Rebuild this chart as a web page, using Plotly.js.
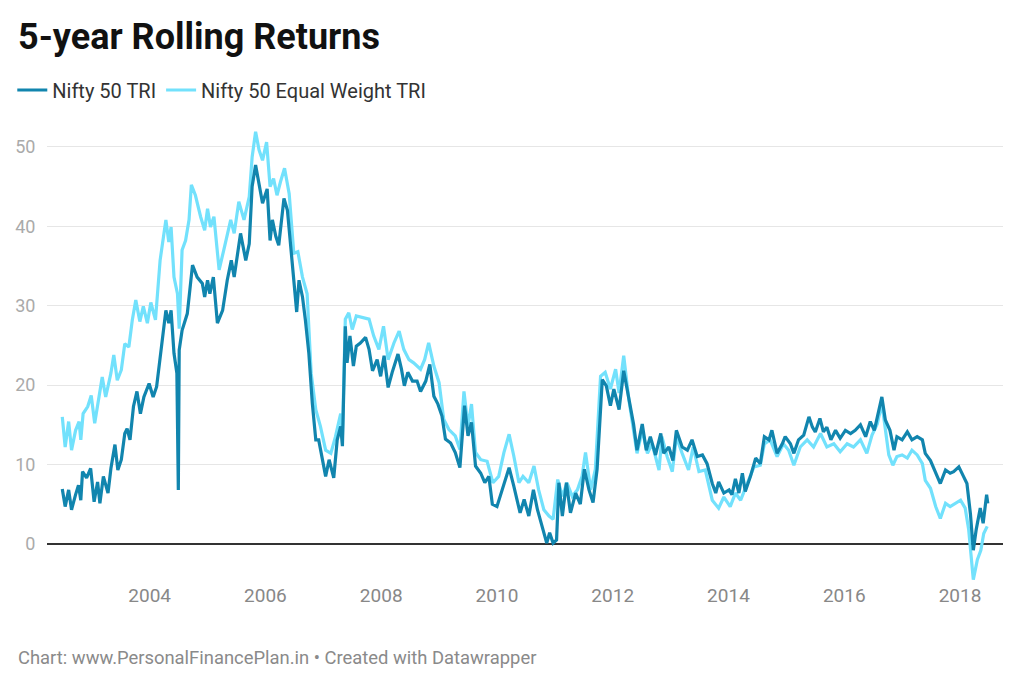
<!DOCTYPE html>
<html>
<head>
<meta charset="utf-8">
<script src="https://cdn.plot.ly/plotly-3.0.1.min.js"></script>
<style>
html,body{margin:0;padding:0;background:#fff;}
#chart{width:1024px;height:694px;}
</style>
</head>
<body>
<div id="chart"></div>
<script>
// Nifty 50 TRI – 5-year rolling returns (%), x in decimal years
var niftyYears = [2002.49,2002.54,2002.60,2002.65,2002.72,2002.77,2002.81,2002.84,2002.91,2002.98,2003.04,2003.10,2003.14,2003.20,2003.28,2003.33,2003.40,2003.45,2003.51,2003.57,2003.61,2003.66,2003.72,2003.78,2003.84,2003.90,2003.99,2004.06,2004.12,2004.19,2004.28,2004.33,2004.37,2004.42,2004.47,2004.495,2004.51,2004.56,2004.65,2004.74,2004.82,2004.91,2004.95,2005.00,2005.04,2005.10,2005.17,2005.26,2005.34,2005.41,2005.46,2005.57,2005.66,2005.72,2005.77,2005.83,2005.89,2005.95,2006.03,2006.08,2006.12,2006.18,2006.23,2006.32,2006.38,2006.44,2006.49,2006.54,2006.58,2006.64,2006.69,2006.75,2006.81,2006.87,2006.92,2006.98,2007.04,2007.10,2007.18,2007.24,2007.30,
2007.33,2007.38,2007.41,2007.46,2007.52,2007.57,2007.64,2007.73,2007.79,2007.85,2007.93,2007.99,2008.05,2008.12,2008.19,2008.29,2008.35,2008.40,2008.46,2008.54,2008.62,2008.68,2008.77,2008.84,2008.91,2008.98,2009.05,2009.11,2009.20,2009.28,2009.36,2009.44,2009.50,2009.56,2009.63,2009.72,2009.79,2009.86,2009.92,2010.00,2010.09,2010.21,2010.29,2010.40,2010.47,2010.55,2010.63,2010.70,2010.78,2010.86,2010.91,2010.97,2011.03,2011.07,2011.13,2011.20,2011.27,2011.36,2011.44,2011.51,2011.59,2011.66,2011.73,2011.82,2011.89,2011.96,2012.02,2012.11,
2012.19,2012.28,2012.36,2012.42,2012.51,2012.58,2012.65,2012.74,2012.83,2012.88,2012.97,2013.04,2013.10,2013.20,2013.29,2013.37,2013.46,2013.55,2013.63,2013.72,2013.78,2013.83,2013.92,2014.01,2014.06,2014.12,2014.18,2014.24,2014.29,2014.38,2014.47,2014.55,2014.62,2014.70,2014.75,2014.84,2014.93,2014.98,2015.07,2015.13,2015.21,2015.30,2015.39,2015.45,2015.50,2015.58,2015.64,2015.70,2015.77,2015.85,2015.93,2016.02,2016.11,2016.19,2016.28,2016.37,2016.45,2016.52,2016.60,2016.65,2016.71,2016.79,2016.86,2016.91,2017.00,2017.09,2017.17,2017.26,2017.35,2017.40,2017.49,2017.58,2017.66,2017.75,2017.83,2017.89,2017.98,2018.06,2018.12,2018.18,2018.23,2018.28,2018.35,2018.40,2018.46,2018.48];
var niftyReturns = [6.9,4.7,6.8,4.3,6.2,7.4,5.5,9.1,8.3,9.5,5.3,7.8,5.1,8.5,6.4,9.5,12.5,9.3,10.6,13.9,14.5,13.1,17.3,19.2,16.4,18.5,20.2,18.5,19.8,24.4,29.4,27.8,29.4,24.0,21.5,6.8,24.4,26.9,29.0,35.1,33.6,32.8,31.1,33.2,31.5,33.6,27.8,29.4,33.2,35.7,33.6,39.1,35.7,37.8,45.0,47.7,45.0,42.9,44.7,38.2,40.8,38.7,37.6,43.5,42.0,37.4,34.0,29.2,33.2,31.1,28.2,24.0,17.7,13.1,13.1,11.0,8.5,10.6,8.3,13.1,14.8,
12.3,27.4,22.8,26.2,22.4,24.9,25.3,26.0,24.5,21.8,23.2,21.1,23.7,19.7,21.6,23.9,22.0,19.9,21.6,20.5,20.5,19.2,20.5,22.6,18.6,17.6,16.1,13.2,12.7,11.5,9.6,17.4,13.6,15.3,9.8,8.9,7.7,8.5,5.0,4.7,6.8,9.6,7.3,3.9,5.6,3.5,6.8,4.3,2.2,0.1,1.4,0.1,0.5,7.7,3.5,7.7,3.9,6.4,5.0,9.4,6.8,5.2,9.4,20.7,19.9,17.4,19.5,16.9,
21.8,18.5,15.1,11.8,15.1,11.8,13.5,11.2,13.9,11.4,12.2,10.5,14.3,12.2,11.8,13.1,11.0,11.2,10.1,7.6,6.4,7.8,6.4,6.8,6.2,8.2,6.4,8.9,6.6,8.5,10.8,10.1,13.5,13.1,14.3,11.4,12.6,13.5,12.6,11.4,13.1,13.7,16.0,14.7,14.1,15.8,14.1,14.7,13.1,14.3,13.3,14.3,13.9,14.3,15.0,13.5,15.4,14.3,17.0,18.5,15.6,14.3,11.8,13.5,13.1,14.1,13.1,13.5,13.1,11.4,10.5,8.9,7.6,9.3,8.9,9.1,9.7,8.5,7.6,3.8,-0.8,1.8,4.5,2.6,6.2,5.1];

// Nifty 50 Equal Weight TRI – 5-year rolling returns (%)
var ewYears = [2002.49,2002.54,2002.60,2002.65,2002.72,2002.78,2002.81,2002.85,2002.93,2002.99,2003.05,2003.11,2003.18,2003.24,2003.33,2003.38,2003.44,2003.51,2003.57,2003.64,2003.70,2003.76,2003.83,2003.89,2003.96,2004.02,2004.10,2004.18,2004.28,2004.33,2004.37,2004.42,2004.48,2004.51,2004.56,2004.62,2004.68,2004.72,2004.79,2004.88,2004.95,2005.00,2005.05,2005.11,2005.20,2005.28,2005.40,2005.46,2005.54,2005.63,2005.72,2005.77,2005.83,2005.89,2005.95,2006.02,2006.08,2006.14,2006.20,2006.26,2006.33,2006.41,2006.49,2006.56,2006.64,2006.72,2006.79,2006.87,2006.95,2007.04,2007.13,2007.21,2007.30,
2007.33,2007.38,2007.44,2007.50,2007.57,2007.67,2007.79,2007.87,2007.96,2008.04,2008.12,2008.22,2008.31,2008.39,2008.48,2008.56,2008.68,2008.75,2008.82,2008.91,2009.00,2009.08,2009.17,2009.28,2009.36,2009.43,2009.50,2009.56,2009.63,2009.72,2009.83,2009.93,2010.03,2010.12,2010.21,2010.29,2010.38,2010.45,2010.55,2010.64,2010.72,2010.81,2010.90,2010.97,2011.05,2011.13,2011.21,2011.30,2011.39,2011.47,2011.53,2011.62,2011.70,2011.79,2011.87,2011.96,2012.05,2012.11,
2012.19,2012.28,2012.36,2012.42,2012.51,2012.60,2012.68,2012.80,2012.85,2012.94,2013.03,2013.10,2013.20,2013.31,2013.39,2013.49,2013.60,2013.72,2013.83,2013.92,2014.03,2014.12,2014.21,2014.32,2014.44,2014.55,2014.62,2014.72,2014.84,2014.95,2015.04,2015.13,2015.24,2015.36,2015.47,2015.59,2015.70,2015.82,2015.93,2016.05,2016.16,2016.28,2016.39,2016.48,2016.57,2016.65,2016.71,2016.77,2016.84,2016.91,2017.00,2017.09,2017.17,2017.26,2017.35,2017.40,2017.49,2017.58,2017.66,2017.75,2017.83,2017.92,2018.01,2018.09,2018.15,2018.23,2018.30,2018.36,2018.41,2018.47];
var ewReturns = [16.0,12.2,15.4,11.8,14.3,15.4,13.1,16.4,17.3,18.7,15.2,17.9,21.0,18.5,21.5,23.8,20.6,21.9,25.2,24.8,28.2,30.7,28.0,29.9,27.8,30.4,28.2,35.7,40.8,38.0,39.9,33.6,31.5,27.1,37.0,38.2,40.8,45.2,43.9,41.2,39.5,42.2,39.9,41.2,34.5,37.0,40.8,39.1,43.1,40.8,43.7,48.7,51.9,49.6,48.3,50.6,45.0,46.0,43.9,45.6,47.3,44.1,36.6,36.8,33.6,31.5,21.5,16.9,14.8,11.8,11.4,13.5,16.4,
13.6,28.3,29.1,27.0,28.7,28.5,28.3,26.2,24.5,27.4,23.2,25.3,26.8,24.5,23.2,22.8,22.0,23.2,25.3,22.4,20.3,15.7,14.4,13.6,11.9,19.2,14.8,17.6,11.5,10.6,10.4,7.7,8.5,11.5,13.8,11.1,7.7,8.5,7.7,9.8,6.8,4.3,3.5,3.1,8.1,6.0,7.7,6.0,6.8,8.5,11.5,6.8,9.4,21.1,21.6,19.5,22.0,19.0,
23.7,18.1,14.3,11.4,14.3,11.4,12.6,9.3,13.5,11.0,9.1,13.5,11.4,9.3,12.2,9.1,9.3,5.5,4.5,5.9,4.7,6.4,5.5,7.6,9.7,9.9,12.6,13.1,11.0,12.6,11.8,9.9,12.2,13.1,12.2,13.9,12.2,12.6,11.6,12.6,12.2,13.1,11.4,13.7,15.1,17.7,14.7,11.2,9.9,11.0,11.2,10.8,11.8,11.2,10.1,8.0,7.0,4.7,3.2,5.1,4.7,5.1,5.5,4.5,1.8,-4.5,-2.0,-0.8,1.3,2.2];

var yTicks = [0,10,20,30,40,50];
var xTicks = [2004,2006,2008,2010,2012,2014,2016,2018];
var xTickLabels = ["2004","2006","2008","2010","2012","2014","2016","2018"];

var FONT = "Roboto, 'Noto Sans', sans-serif";

var traces = [
  {x: ewYears, y: ewReturns, type: 'scatter', mode: 'lines', name: 'Nifty 50 Equal Weight TRI',
   line: {color: '#72e1fc', width: 3.2}, hoverinfo: 'x+y'},
  {x: niftyYears, y: niftyReturns, type: 'scatter', mode: 'lines', name: 'Nifty 50 TRI',
   line: {color: '#1185ae', width: 3.2}, hoverinfo: 'x+y'}
];

var layout = {
  width: 1024, height: 694,
  paper_bgcolor: '#ffffff', plot_bgcolor: '#ffffff',
  margin: {l: 47, r: 21, t: 123, b: 112, pad: 0},
  font: {family: FONT, color: '#333333'},
  title: {
    text: '5-year Rolling Returns',
    font: {family: FONT, size: 36, color: '#111111', weight: 700},
    xref: 'container', yref: 'container',
    x: 18/1024, xanchor: 'left',
    y: 1 - 36/694, yanchor: 'middle'
  },
  showlegend: true,
  legend: {
    orientation: 'h', traceorder: 'reversed',
    xref: 'container', yref: 'container',
    x: 0.012, xanchor: 'left', y: 1 - 90/694, yanchor: 'middle',
    font: {family: FONT, size: 20, color: '#333333'},
    bgcolor: 'rgba(0,0,0,0)', borderwidth: 0,
    itemwidth: 30
  },
  xaxis: {
    type: 'linear', range: [2002.226, 2018.743],
    tickmode: 'array', tickvals: xTicks, ticktext: xTickLabels,
    showgrid: false, zeroline: false, showline: false,
    ticks: '', 
    tickfont: {family: FONT, size: 19, color: '#888888'},
    fixedrange: true
  },
  yaxis: {
    range: [-4.8, 53],
    tickmode: 'array', tickvals: yTicks,
    showgrid: true, gridcolor: '#e6e6e6', gridwidth: 1,
    zeroline: true, zerolinecolor: '#333333', zerolinewidth: 1.5,
    showline: false,
    ticks: 'outside', ticklen: 7, tickcolor: 'rgba(0,0,0,0)',
    tickfont: {family: FONT, size: 18, color: '#aaaaaa'},
    fixedrange: true
  },
  annotations: [{
    text: 'Chart: www.PersonalFinancePlan.in • Created with Datawrapper',
    xref: 'paper', yref: 'paper',
    x: (16 - 47) / 956, xanchor: 'left',
    y: -(658 - 582.1) / 458.9, yanchor: 'middle',
    showarrow: false,
    font: {family: FONT, size: 18.4, color: '#8a8a8a'}
  }]
};

Plotly.newPlot('chart', traces, layout, {displayModeBar: false, staticPlot: true});
</script>
</body>
</html>
